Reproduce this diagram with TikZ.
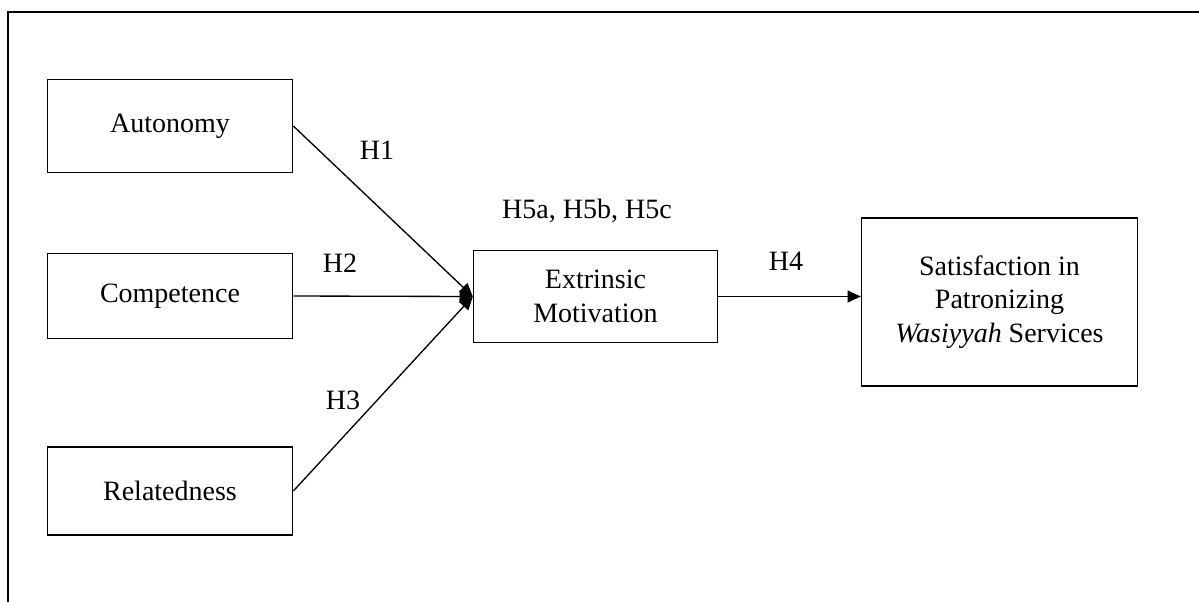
\documentclass[tikz,border=0pt]{standalone}
\usepackage{fontspec}
\setmainfont{Liberation Serif}
\usepackage{tikz}
\usetikzlibrary{arrows.meta,positioning}

\begin{document}
\begin{tikzpicture}[
  x=0.75pt, y=-0.75pt,
  font=\fontsize{21}{25}\selectfont,
  construct/.style={rectangle, draw=black, line width=1pt, align=center, inner sep=2pt, minimum width=184pt, minimum height=67pt},
  hyp/.style={inner sep=1pt},
  arrow/.style={-{Triangle[length=10pt,width=9pt]}, line width=1pt, draw=black}
]
\useasboundingbox (0,0) rectangle (1199,601);
% outer frame (only top and left edge inside the page)
\draw[line width=1.3pt] (8,602) |- (1200,12);

\node[construct, minimum height=70pt] (aut) at (170,126) {Autonomy};
\node[construct, minimum height=64pt] (comp) at (170,296) {Competence};
\node[construct, minimum height=66pt] (rel) at (170,491) {Relatedness};
\node[construct, minimum width=183pt, minimum height=69pt] (em) at (595.5,296.5) {Extrinsic\\Motivation};
\node[construct, minimum width=207pt, minimum height=126pt] (sat) at (999.5,302) {Satisfaction in\\Patronizing\\\textit{Wasiyyah} Services};

\draw[arrow] (aut.east) -- (em.west);
\draw[arrow] (comp.east) -- (em.west);
\draw[arrow] (rel.east) -- (em.west);
\draw[arrow] (em.east) -- (em.east -| sat.west);

\node[hyp] (h1) at (377,150) {H1};
\node[hyp] (h2) at (340,263) {H2};
\node[hyp] (h3) at (343,400) {H3};
\node[hyp] (h5) at (587,211) {H5a, H5b, H5c};
\node[hyp] (h4) at (786,261) {H4};
\end{tikzpicture}
\end{document}
